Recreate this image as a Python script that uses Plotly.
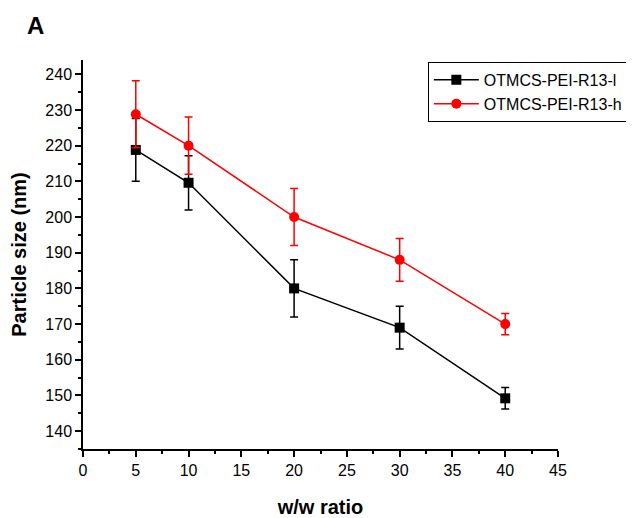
import plotly.graph_objects as go

ratio = [5, 10, 20, 30, 40]
size_l = [218.8, 209.6, 180.0, 169.0, 149.2]
err_l = [8.8, 7.6, 8.0, 6.0, 3.0]
size_h = [228.8, 220.0, 200.0, 188.0, 170.0]
err_h = [9.4, 8.0, 8.0, 6.0, 3.0]
names = ["OTMCS-PEI-R13-l", "OTMCS-PEI-R13-h"]

FONT = "Liberation Sans, Arial, sans-serif"

fig = go.Figure()
fig.add_trace(go.Scatter(
    x=ratio, y=size_l, name=names[0], mode="lines+markers",
    line=dict(color="black", width=1.5),
    marker=dict(symbol="square", size=10, color="black"),
    error_y=dict(type="data", array=err_l, color="black", thickness=1.5, width=4),
))
fig.add_trace(go.Scatter(
    x=ratio, y=size_h, name=names[1], mode="lines+markers",
    line=dict(color="red", width=1.5),
    marker=dict(symbol="circle", size=10, color="red"),
    error_y=dict(type="data", array=err_h, color="red", thickness=1.5, width=4),
))

fig.update_layout(
    width=634, height=518,
    margin=dict(l=75, r=84, t=52, b=77, autoexpand=False),
    paper_bgcolor="white", plot_bgcolor="white",
    font=dict(family=FONT, color="black", size=16),
    legend=dict(x=0.726, y=0.995, xanchor="left", yanchor="top",
                bordercolor="black", borderwidth=1, bgcolor="white",
                font=dict(size=16, family=FONT), tracegroupgap=0,
                itemwidth=45),
    showlegend=True,
)
fig.update_xaxes(
    range=[0, 45], tickmode="linear", tick0=0, dtick=5, automargin=False,
    showgrid=False, zeroline=False, showline=True, linecolor="black", linewidth=1.5,
    ticks="outside", ticklen=6, tickwidth=1.5, tickcolor="black",
    minor=dict(ticks="outside", ticklen=3, tickwidth=1.5, tickcolor="black", dtick=2.5, tick0=0),
    tickfont=dict(size=16),
    title=dict(text="<b>w/w ratio</b>", font=dict(size=20), standoff=22),
)
fig.update_yaxes(
    range=[135, 244], tickmode="linear", tick0=140, dtick=10, automargin=False,
    showgrid=False, zeroline=False, showline=True, linecolor="black", linewidth=1.5,
    ticks="outside", ticklen=6, tickwidth=1.5, tickcolor="black",
    minor=dict(ticks="outside", ticklen=3, tickwidth=1.5, tickcolor="black", dtick=5, tick0=135),
    tickfont=dict(size=16),
    title=dict(text="<b>Particle size (nm)</b>", font=dict(size=20), standoff=14),
)
fig.add_annotation(text="<b>A</b>", xref="paper", yref="paper", x=-0.122, y=1.088,
                   xanchor="left", yanchor="middle", showarrow=False,
                   font=dict(size=24, family=FONT))

fig.write_html("out.html")
